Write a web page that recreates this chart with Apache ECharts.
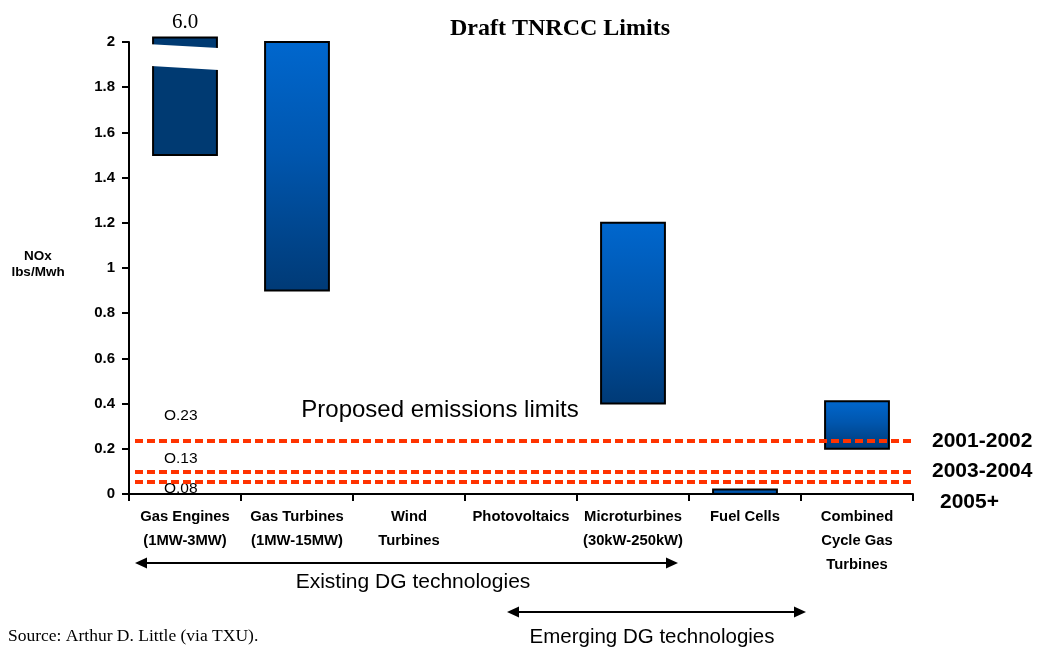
<!DOCTYPE html>
<html>
<head>
<meta charset="utf-8">
<script src="https://cdn.jsdelivr.net/npm/echarts@6/dist/echarts.min.js"></script>
<style>
html,body{margin:0;padding:0;background:#fff;}
#chart{width:1049px;height:650px;}
</style>
</head>
<body>
<div id="chart"></div>
<script>
// ---- data ----
const categories = ['Gas Engines\n(1MW-3MW)', 'Gas Turbines\n(1MW-15MW)', 'Wind\nTurbines', 'Photovoltaics', 'Microturbines\n(30kW-250kW)', 'Fuel Cells', 'Combined\nCycle Gas\nTurbines'];
// NOx range per technology [category index, low, high]  (lbs/MWh)
const rangeLow  = [1.5, 0.9, null, null, 0.4, 0.0, 0.2];
const rangeHigh = [6.0, 2.0, null, null, 1.2, 0.02, 0.41];
// proposed emissions limits (drawn positions) and their labels
const limitValues = [0.235, 0.10, 0.056];
const limitLabels = ['O.23', 'O.13', 'O.08'];
const limitYears  = ['2001-2002', '2003-2004', '2005+'];
const yTicks = { min: 0, max: 2, interval: 0.2 };
const axisBreak = { displayTop: 2.02, leftTop: 1.99, leftBottom: 1.894, rightTop: 1.973, rightBottom: 1.876, label: '6.0' };

const SANS = "'Liberation Sans', Arial, sans-serif";
const SERIF = "'Liberation Serif', 'Times New Roman', serif";

const rangeData = [];
categories.forEach((c, i) => {
  if (rangeLow[i] !== null) rangeData.push([i, rangeLow[i], rangeHigh[i]]);
});

const chart = echarts.init(document.getElementById('chart'), null, { renderer: 'canvas' });

const barGradient = () => new echarts.graphic.LinearGradient(0, 0, 0, 1, [
  { offset: 0, color: '#0067CE' },
  { offset: 0.45, color: '#0056AE' },
  { offset: 1, color: '#003A76' }
]);

function arrow(x1, x2, y) {
  const h = 12, hw = 5.5;
  return {
    type: 'group',
    children: [
      { type: 'line', shape: { x1: x1 + 4, y1: y, x2: x2 - 4, y2: y }, style: { stroke: '#000', lineWidth: 2 } },
      { type: 'polygon', shape: { points: [[x1, y], [x1 + h, y - hw], [x1 + h, y + hw]] }, style: { fill: '#000' } },
      { type: 'polygon', shape: { points: [[x2, y], [x2 - h, y - hw], [x2 - h, y + hw]] }, style: { fill: '#000' } }
    ]
  };
}

const option = {
  backgroundColor: '#fff',
  animation: false,
  grid: { left: 129, right: 136, top: 42, bottom: 156, containLabel: false },
  xAxis: {
    type: 'category',
    data: categories,
    axisLine: { lineStyle: { color: '#000', width: 2 } },
    axisTick: { show: true, length: 7, lineStyle: { color: '#000', width: 2 } },
    axisLabel: {
      interval: 0, margin: 11, color: '#000', fontFamily: SANS, fontWeight: 'bold',
      fontSize: 14.8, lineHeight: 24
    },
    splitLine: { show: false }
  },
  yAxis: {
    type: 'value',
    min: yTicks.min, max: yTicks.max, interval: yTicks.interval,
    axisLine: { show: true, lineStyle: { color: '#000', width: 2 } },
    axisTick: { show: true, length: 7, lineStyle: { color: '#000', width: 2 } },
    axisLabel: { margin: 14, color: '#000', fontFamily: SANS, fontWeight: 'bold', fontSize: 15 },
    splitLine: { show: false }
  },
  series: [
    {
      type: 'custom',
      name: 'NOx range',
      clip: false,
      z: 2,
      data: rangeData,
      renderItem: function (params, api) {
        const idx = api.value(0);
        const lo = api.value(1);
        let hi = api.value(2);
        const broken = hi > yTicks.max;
        if (broken) hi = axisBreak.displayTop;
        const pLo = api.coord([idx, lo]);
        const pHi = api.coord([idx, hi]);
        const w = api.size([1, 0])[0] * 0.57;
        const left = pLo[0] - w / 2;
        const children = [{
          type: 'rect',
          shape: { x: left, y: pHi[1], width: w, height: Math.max(pLo[1] - pHi[1], 1) },
          style: { fill: broken ? '#003A72' : barGradient(), stroke: '#000', lineWidth: 2 }
        }];
        if (broken) {
          const yLT = api.coord([idx, axisBreak.leftTop])[1];
          const yLB = api.coord([idx, axisBreak.leftBottom])[1];
          const yRT = api.coord([idx, axisBreak.rightTop])[1];
          const yRB = api.coord([idx, axisBreak.rightBottom])[1];
          children.push({
            type: 'polygon',
            shape: { points: [[left - 2, yLT], [left + w + 1.5, yRT], [left + w + 1.5, yRB], [left - 2, yLB]] },
            style: { fill: '#fff' }
          });
          children.push({
            type: 'text',
            style: {
              text: axisBreak.label, x: pLo[0], y: pHi[1] - 15,
              align: 'center', verticalAlign: 'middle',
              font: '21px ' + SERIF, fill: '#000'
            }
          });
        }
        return { type: 'group', children: children };
      }
    },
    {
      type: 'line',
      name: 'limits',
      data: [],
      z: 5,
      silent: true,
      markLine: {
        silent: true,
        symbol: ['none', 'none'],
        label: { show: false },
        lineStyle: { color: '#FF3300', width: 4, type: [8, 4], opacity: 1 },
        data: limitValues.map(v => [{ yAxis: v, x: 135 }, { yAxis: v, x: 915 }])
      }
    }
  ],
  graphic: []
};

chart.setOption(option);

// annotation texts positioned from the axis scale
const yPix = v => chart.convertToPixel({ yAxisIndex: 0 }, v);
const gr = [
  { type: 'text', style: { text: 'Draft TNRCC Limits', x: 560, y: 29, align: 'center', verticalAlign: 'middle', font: 'bold 24px ' + SERIF, fill: '#000' } },
  { type: 'text', style: { text: 'NOx\nlbs/Mwh', x: 38, y: 264, align: 'center', verticalAlign: 'middle', font: 'bold 13.5px ' + SANS, lineHeight: 16, fill: '#000' } },
  { type: 'text', style: { text: 'Proposed emissions limits', x: 440, y: yPix(0.37), align: 'center', verticalAlign: 'middle', font: '24px ' + SANS, fill: '#000' } },
  { type: 'text', style: { text: limitLabels[0], x: 164, y: yPix(limitValues[0]) - 25, align: 'left', verticalAlign: 'middle', font: '15.5px ' + SANS, fill: '#000' } },
  { type: 'text', style: { text: limitLabels[1], x: 164, y: yPix(limitValues[1]) - 13, align: 'left', verticalAlign: 'middle', font: '15.5px ' + SANS, fill: '#000' } },
  { type: 'text', style: { text: limitLabels[2], x: 164, y: yPix(limitValues[2]) + 7, align: 'left', verticalAlign: 'middle', font: '15.5px ' + SANS, fill: '#000' } },
  { type: 'text', style: { text: limitYears[0], x: 932, y: yPix(limitValues[0]), align: 'left', verticalAlign: 'middle', font: 'bold 21px ' + SANS, fill: '#000' } },
  { type: 'text', style: { text: limitYears[1], x: 932, y: yPix(limitValues[1]), align: 'left', verticalAlign: 'middle', font: 'bold 21px ' + SANS, fill: '#000' } },
  { type: 'text', style: { text: limitYears[2], x: 940, y: yPix(limitValues[2]) + 21, align: 'left', verticalAlign: 'middle', font: 'bold 21px ' + SANS, fill: '#000' } },
  arrow(135, 678, 563),
  { type: 'text', style: { text: 'Existing DG technologies', x: 413, y: 582, align: 'center', verticalAlign: 'middle', font: '21px ' + SANS, fill: '#000' } },
  arrow(507, 806, 612),
  { type: 'text', style: { text: 'Emerging DG technologies', x: 652, y: 637, align: 'center', verticalAlign: 'middle', font: '20.5px ' + SANS, fill: '#000' } },
  { type: 'text', style: { text: 'Source: Arthur D. Little (via TXU).', x: 8, y: 636, align: 'left', verticalAlign: 'middle', font: '17.5px ' + SERIF, fill: '#000' } }
];
chart.setOption({ graphic: gr });
</script>
</body>
</html>
